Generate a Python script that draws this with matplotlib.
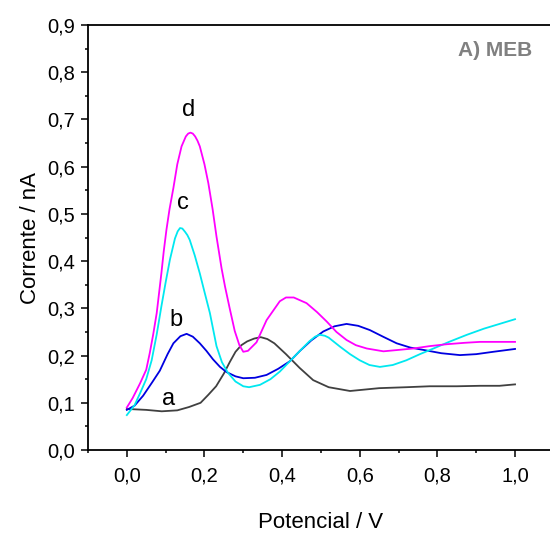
import matplotlib
matplotlib.use('Agg')
import matplotlib.pyplot as plt
from matplotlib.ticker import MultipleLocator, FuncFormatter

plt.rcParams['font.family'] = ['Liberation Sans', 'DejaVu Sans']

# curve a (gray)
a_x = [0.00, 0.05, 0.09, 0.13, 0.16, 0.19, 0.21, 0.23, 0.25, 0.265, 0.28, 0.295, 0.31, 0.328, 0.345,
       0.362, 0.38, 0.41, 0.445, 0.48, 0.52, 0.575, 0.65, 0.72, 0.78, 0.85, 0.91, 0.96, 1.00]
a_y = [0.087, 0.085, 0.082, 0.084, 0.091, 0.100, 0.117, 0.135, 0.162, 0.186, 0.208, 0.222, 0.230, 0.236, 0.239,
       0.235, 0.226, 0.203, 0.174, 0.148, 0.133, 0.125, 0.131, 0.133, 0.135, 0.135, 0.136, 0.136, 0.139]

# curve b (blue)
b_x = [0.00, 0.02, 0.042, 0.065, 0.085, 0.105, 0.12, 0.138, 0.154, 0.17, 0.188, 0.205,
       0.222, 0.24, 0.257, 0.28, 0.30, 0.33, 0.36, 0.39, 0.42, 0.446, 0.475, 0.506,
       0.535, 0.566, 0.596, 0.626, 0.66, 0.695, 0.73, 0.764, 0.81, 0.858, 0.90, 0.944, 1.00]
b_y = [0.085, 0.094, 0.115, 0.143, 0.168, 0.203, 0.226, 0.241, 0.246, 0.240, 0.226, 0.210,
       0.192, 0.176, 0.165, 0.156, 0.152, 0.153, 0.159, 0.172, 0.188, 0.210, 0.232, 0.251,
       0.262, 0.267, 0.263, 0.254, 0.240, 0.226, 0.217, 0.212, 0.205, 0.201, 0.203, 0.208, 0.214]

# curve c (cyan)
c_x = [0.00, 0.02, 0.034, 0.05, 0.064, 0.077, 0.089, 0.100, 0.111, 0.124, 0.131, 0.137, 0.143, 0.150,
       0.156, 0.162, 0.175, 0.188, 0.200, 0.214, 0.231, 0.245, 0.26, 0.28, 0.30, 0.315, 0.343,
       0.37, 0.394, 0.42, 0.446, 0.47, 0.485, 0.497, 0.51, 0.52, 0.549, 0.575, 0.60, 0.625, 0.652,
       0.685, 0.72, 0.755, 0.79, 0.83, 0.876, 0.92, 0.96, 1.00]
c_y = [0.074, 0.095, 0.120, 0.150, 0.190, 0.245, 0.304, 0.355, 0.403, 0.448, 0.463, 0.470, 0.469, 0.462,
       0.455, 0.445, 0.412, 0.374, 0.335, 0.290, 0.220, 0.186, 0.164, 0.145, 0.135, 0.133, 0.138,
       0.150, 0.166, 0.188, 0.210, 0.230, 0.240, 0.244, 0.242, 0.238, 0.219, 0.203, 0.190, 0.180, 0.176,
       0.180, 0.190, 0.203, 0.215, 0.229, 0.244, 0.257, 0.267, 0.277]

# curve d (magenta)
d_x = [0.00, 0.015, 0.034, 0.05, 0.059, 0.068, 0.077, 0.089, 0.095, 0.102, 0.11, 0.12, 0.13,
       0.141, 0.152, 0.158, 0.164, 0.170, 0.176, 0.182, 0.188, 0.20, 0.21, 0.221, 0.231, 0.244,
       0.253, 0.265, 0.278, 0.29, 0.30, 0.312, 0.334, 0.36, 0.377, 0.394, 0.41, 0.43, 0.463, 0.49,
       0.515, 0.54, 0.566, 0.59, 0.618, 0.661, 0.70, 0.738, 0.78, 0.824, 0.87, 0.91, 0.95, 1.00]
d_y = [0.090, 0.110, 0.141, 0.170, 0.205, 0.245, 0.290, 0.374, 0.420, 0.466, 0.510, 0.555, 0.605,
       0.643, 0.664, 0.670, 0.672, 0.670, 0.664, 0.655, 0.643, 0.605, 0.565, 0.510, 0.452, 0.385,
       0.346, 0.300, 0.252, 0.222, 0.208, 0.210, 0.228, 0.275, 0.295, 0.315, 0.323, 0.323, 0.311, 0.292,
       0.272, 0.250, 0.233, 0.222, 0.215, 0.209, 0.212, 0.215, 0.220, 0.224, 0.227, 0.229, 0.229, 0.229]

curve_labels = ['a', 'b', 'c', 'd']
label_x = [0.107, 0.126, 0.145, 0.158]
label_y = [0.109, 0.275, 0.523, 0.720]

fig = plt.figure(figsize=(5.5, 5.36), dpi=100)
ax = fig.add_axes([0.16, 0.1604, 0.847, 0.793])

ax.plot(a_x, a_y, color='#404040', lw=1.3)
ax.plot(b_x, b_y, color='#0000e0', lw=1.3)
ax.plot(c_x, c_y, color='#00e8f0', lw=1.3)
ax.plot(d_x, d_y, color='#ff00ff', lw=1.3)

for lab, lx, ly in zip(curve_labels, label_x, label_y):
    ax.text(lx, ly, lab, fontsize=17, ha='center', va='center')

ax.text(0.948, 0.847, 'A) MEB', fontsize=15, fontweight='bold', color='#808080',
        ha='center', va='center')

ax.set_xlim(-0.1, 1.1)
ax.set_ylim(0.0, 0.9)
ax.xaxis.set_major_locator(MultipleLocator(0.2))
ax.xaxis.set_minor_locator(MultipleLocator(0.1))
ax.yaxis.set_major_locator(MultipleLocator(0.1))
ax.yaxis.set_minor_locator(MultipleLocator(0.05))
comma = FuncFormatter(lambda v, p: f'{v:.1f}'.replace('.', ','))
ax.xaxis.set_major_formatter(comma)
ax.yaxis.set_major_formatter(comma)
ax.set_xticks([0.0, 0.2, 0.4, 0.6, 0.8, 1.0])

ax.tick_params(which='major', direction='out', length=5, width=1.1, labelsize=14.5)
ax.tick_params(axis='x', which='major', pad=7)
ax.tick_params(axis='y', which='major', pad=4)
ax.tick_params(which='minor', direction='out', length=2.5, width=1.1)
for s in ax.spines.values():
    s.set_linewidth(1.3)

ax.set_xlabel('Potencial / V', fontsize=16, labelpad=19)
ax.set_ylabel('Corrente / nA', fontsize=16, labelpad=5)

fig.savefig('out.png', dpi=100)
